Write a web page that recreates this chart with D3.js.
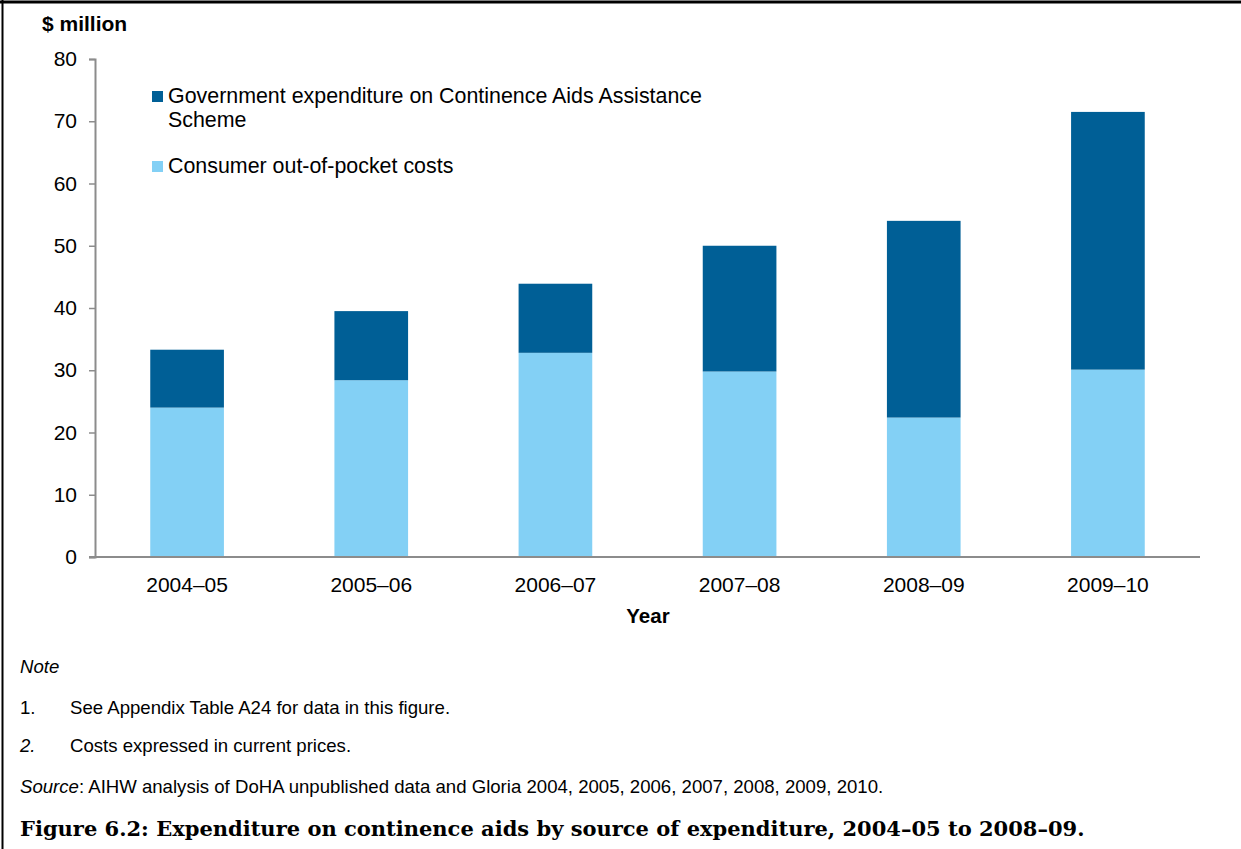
<!DOCTYPE html>
<html>
<head>
<meta charset="utf-8">
<script src="https://cdn.jsdelivr.net/npm/d3@7"></script>
<style>
  body { margin: 0; background: #fff; }
  svg text { font-family: "Liberation Sans", Arial, sans-serif; fill: #000; }
</style>
</head>
<body>
<script>
"use strict";

// values ($ million)
const years = ["2004–05", "2005–06", "2006–07", "2007–08", "2008–09", "2009–10"];
const consumerCosts = [24.0, 28.4, 32.8, 29.8, 22.4, 30.1];
const governmentCosts = [9.3, 11.1, 11.1, 20.2, 31.6, 41.4];
const yTicks = [0, 10, 20, 30, 40, 50, 60, 70, 80];

const seriesNames = [
    "Consumer out-of-pocket costs",
    "Government expenditure on Continence Aids Assistance Scheme"
];
const colors = ["#83d0f5", "#005f96"];

const width = 1241, height = 849;
const margin = { top: 59, right: 41, bottom: 292, left: 95 };

const svg = d3.select("body").append("svg")
              .attr("width", width)
              .attr("height", height);

// frame (top and left edges only, as in the source page)
svg.append("line").attr("x1", 0).attr("x2", width).attr("y1", 2).attr("y2", 2)
   .attr("stroke", "#000").attr("stroke-width", 3);
svg.append("line").attr("x1", 2.5).attr("x2", 2.5).attr("y1", 0).attr("y2", height)
   .attr("stroke", "#000").attr("stroke-width", 2);

const x = d3.scaleBand()
            .domain(years)
            .range([margin.left, width - margin.right])
            .paddingInner(0.6)
            .paddingOuter(0.3);

const y = d3.scaleLinear()
            .domain([0, 80])
            .range([height - margin.bottom, margin.top]);

const rows = years.map((yr, i) => ({
    year: yr,
    consumer: consumerCosts[i],
    government: governmentCosts[i]
}));

const layers = d3.stack().keys(["consumer", "government"])(rows);

svg.append("g").selectAll("g")
   .data(layers)
   .join("g")
   .attr("fill", (d, i) => colors[i])
   .selectAll("rect")
   .data(d => d)
   .join("rect")
   .attr("x", d => x(d.data.year))
   .attr("width", x.bandwidth())
   .attr("y", d => y(d[1]))
   .attr("height", d => y(d[0]) - y(d[1]));

// y axis
const yAxis = svg.append("g")
                 .attr("transform", `translate(${margin.left},0)`)
                 .call(d3.axisLeft(y).tickValues(yTicks).tickSize(6).tickPadding(12));
yAxis.select(".domain").attr("stroke", "#8c8c8c").attr("stroke-width", 2);
yAxis.selectAll(".tick line").attr("stroke", "#8c8c8c").attr("stroke-width", 1.5);
yAxis.selectAll(".tick text").style("font-size", "21px").attr("fill", "#000");

// x axis
const xAxis = svg.append("g")
                 .attr("transform", `translate(0,${height - margin.bottom})`)
                 .call(d3.axisBottom(x).tickSize(0).tickPadding(20));
xAxis.select(".domain")
     .attr("d", `M${margin.left - 6},0H${width - margin.right}`)
     .attr("stroke", "#8c8c8c").attr("stroke-width", 2);
xAxis.selectAll(".tick text").style("font-size", "21px").attr("fill", "#000");

svg.append("text")
   .attr("x", 648).attr("y", 623)
   .attr("text-anchor", "middle")
   .style("font-size", "20.5px").style("font-weight", "bold")
   .text("Year");

svg.append("text")
   .attr("x", 42).attr("y", 31)
   .style("font-size", "21px").style("font-weight", "bold")
   .text("$ million");

// legend
const legend = svg.append("g").style("font-size", "21.4px");
legend.append("rect").attr("x", 152).attr("y", 91).attr("width", 11).attr("height", 11)
      .attr("fill", colors[1]);
legend.append("text").attr("x", 168).attr("y", 103)
      .text("Government expenditure on Continence Aids Assistance");
legend.append("text").attr("x", 168).attr("y", 127)
      .text("Scheme");
legend.append("rect").attr("x", 152).attr("y", 161).attr("width", 11).attr("height", 11)
      .attr("fill", colors[0]);
legend.append("text").attr("x", 168).attr("y", 173)
      .text(seriesNames[0]);

// notes
const notes = svg.append("g").style("font-size", "18.6px");
notes.append("text").attr("x", 20).attr("y", 673).style("font-style", "italic").text("Note");
notes.append("text").attr("x", 20).attr("y", 714).text("1.");
notes.append("text").attr("x", 70).attr("y", 714).text("See Appendix Table A24 for data in this figure.");
notes.append("text").attr("x", 20).attr("y", 752).style("font-style", "italic").text("2.");
notes.append("text").attr("x", 70).attr("y", 752).text("Costs expressed in current prices.");
const src = notes.append("text").attr("x", 20).attr("y", 793);
src.append("tspan").style("font-style", "italic").text("Source");
src.append("tspan").text(": AIHW analysis of DoHA unpublished data and Gloria 2004, 2005, 2006, 2007, 2008, 2009, 2010.");

svg.append("text")
   .attr("x", 20).attr("y", 836)
   .style("font-family", "'DejaVu Serif', serif")
   .style("font-size", "21px").style("font-weight", "bold")
   .text("Figure 6.2: Expenditure on continence aids by source of expenditure, 2004–05 to 2008–09.");
</script>
</body>
</html>
